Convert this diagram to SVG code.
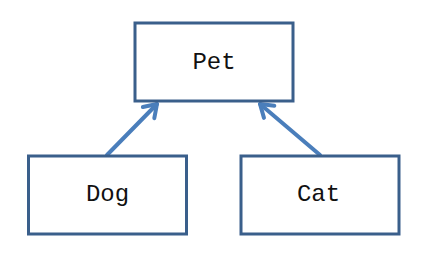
<svg xmlns="http://www.w3.org/2000/svg" width="429" height="260" viewBox="0 0 429 260">
<defs>
<style>
.box{fill:#fff;stroke:#3A5F8B;stroke-width:3}
.lbl{font-family:"Liberation Mono","Courier New",monospace;font-size:24px;fill:#111;text-anchor:middle}
.conn{stroke:#4A7EBB;stroke-width:4;fill:none;stroke-linecap:round;stroke-linejoin:round}
</style>
<marker id="arr" markerUnits="userSpaceOnUse" markerWidth="30" markerHeight="30" refX="15" refY="15" orient="auto" viewBox="0 0 30 30">
<path d="M3,7 L15,15 L3,23" fill="none" stroke="#4A7EBB" stroke-width="4" stroke-linecap="round" stroke-linejoin="round"/>
</marker>
</defs>
<rect width="429" height="260" fill="#fff"/>
<g id="connectors">
<path class="conn" d="M107,155 L157,104" marker-end="url(#arr)"/>
<path class="conn" d="M320,155 L260,104" marker-end="url(#arr)"/>
</g>
<g id="pet">
<rect class="box" x="135" y="23" width="158" height="78"/>
<text class="lbl" x="214" y="69">Pet</text>
</g>
<g id="dog">
<rect class="box" x="28.5" y="156" width="158" height="78"/>
<text class="lbl" x="107.5" y="201">Dog</text>
</g>
<g id="cat">
<rect class="box" x="241" y="156" width="158" height="78"/>
<text class="lbl" x="318.5" y="201">Cat</text>
</g>
</svg>
